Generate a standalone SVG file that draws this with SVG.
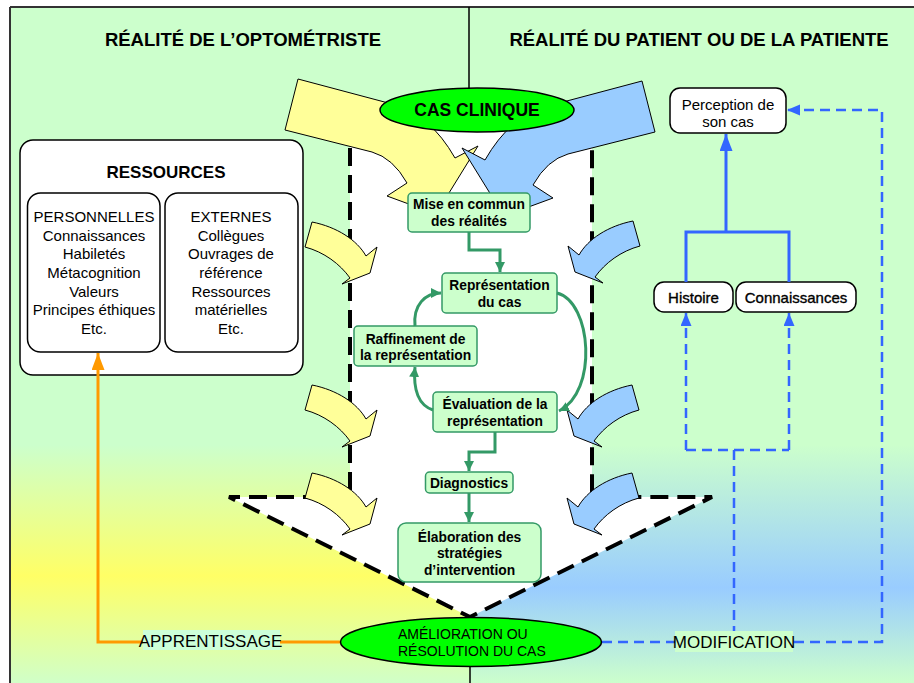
<svg xmlns="http://www.w3.org/2000/svg" xmlns:xlink="http://www.w3.org/1999/xlink" width="914" height="683" viewBox="0 0 914 683">
<style>
text{font-family:"Liberation Sans",Arial,sans-serif;fill:#000}
.t{font-weight:bold;font-size:18.5px;text-anchor:middle}
.g{fill:#CCFFCC;stroke:#339966;stroke-width:1.5}
.gt{font-weight:bold;font-size:13.8px;text-anchor:middle}
.w{fill:#fff;stroke:#000;stroke-width:1.5}
.r{font-size:15px;text-anchor:middle}
.dash{fill:none;stroke:#000;stroke-width:4;stroke-dasharray:18 9}
.ga{fill:none;stroke:#339966;stroke-width:3;marker-end:url(#mg)}
.bl{fill:none;stroke:#3366FF;stroke-width:3}
.bd{fill:none;stroke:#3366FF;stroke-width:2.5;stroke-dasharray:10 6}
.ys{fill:#FFFF99;stroke:#000;stroke-width:1}
.bs{fill:#99CCFF;stroke:#000;stroke-width:1}
.ell{fill:#00FF00;stroke:#000;stroke-width:1.5}
.lab{font-size:17px;text-anchor:middle}
</style>
<defs>
<linearGradient id="gy" x1="0" y1="0" x2="0" y2="1">
<stop offset="0" stop-color="#CCFFCC"/><stop offset="0.55" stop-color="#FFFF66"/><stop offset="1" stop-color="#D0FFC8"/>
</linearGradient>
<linearGradient id="gb" x1="0" y1="0" x2="0" y2="1">
<stop offset="0" stop-color="#CCFFCC"/><stop offset="0.6" stop-color="#99CCFF"/><stop offset="1" stop-color="#CCFFCC"/>
</linearGradient>
<marker id="mg" markerUnits="userSpaceOnUse" markerWidth="11" markerHeight="11" refX="10" refY="5" orient="auto"><path d="M0,0 L10,5 L0,10 z" fill="#339966"/></marker>
<marker id="mb" markerUnits="userSpaceOnUse" markerWidth="18" markerHeight="14" refX="17" refY="6.5" orient="auto"><path d="M0,0 L17,6.5 L0,13 z" fill="#3366FF"/></marker>
<marker id="mbs" markerUnits="userSpaceOnUse" markerWidth="14" markerHeight="12" refX="13" refY="5.5" orient="auto"><path d="M0,0 L13,5.5 L0,11 z" fill="#3366FF"/></marker>
<marker id="mo" markerUnits="userSpaceOnUse" markerWidth="18" markerHeight="14" refX="17" refY="6.5" orient="auto"><path d="M0,0 L17,6.5 L0,13 z" fill="#FF9900"/></marker>
<path id="sa" d="M0,0 C25,5 45,18 54,34 L65,25 L58,51 L30,62 L38,56 C28,42 12,30 -7,25 Z"/>
<path id="ba" d="M298,79 L392,104 Q430,114 455,158 L478,146 L436,214 L387,196 L407,183 Q393,158 372,152 L285,130 Z"/>
</defs>

<g id="background">
<rect x="0" y="0" width="914" height="683" fill="#fff"/>
<rect x="10" y="7" width="904" height="676" fill="#CCFFCC"/>
<rect x="10" y="445" width="460" height="238" fill="url(#gy)"/>
<rect x="470" y="445" width="444" height="238" fill="url(#gb)"/>
<polygon points="350,110 592,110 592,497 712,497 470,617 229,497 350,497" fill="#fff"/>
<line x1="10" y1="7" x2="914" y2="7" stroke="#333" stroke-width="2"/>
<line x1="10" y1="7" x2="10" y2="683" stroke="#333" stroke-width="2"/>
<line x1="469" y1="7" x2="469" y2="90" stroke="#000" stroke-width="1.5"/>
<line x1="470" y1="665" x2="470" y2="683" stroke="#000" stroke-width="1.5"/>
<path class="dash" d="M350,148 V497 H229 L470,617 L712,497 H592 V150"/>
</g>

<g id="titles">
<text class="t" x="243" y="46">RÉALITÉ DE L’OPTOMÉTRISTE</text>
<text class="t" x="699" y="46">RÉALITÉ DU PATIENT OU DE LA PATIENTE</text>
</g>

<g id="big-arrows">
<use xlink:href="#ba" class="ys"/>
<use xlink:href="#ba" class="bs" transform="translate(940,2) scale(-1,1)"/>
</g>

<g id="cas-clinique">
<ellipse class="ell" cx="477" cy="110" rx="97" ry="22"/>
<text x="477" y="116" style="font-weight:bold;font-size:17.5px;text-anchor:middle">CAS CLINIQUE</text>
</g>

<g id="side-arrows">
<use xlink:href="#sa" class="ys" transform="translate(312,222)"/>
<use xlink:href="#sa" class="ys" transform="translate(312,385)"/>
<use xlink:href="#sa" class="ys" transform="translate(312,473)"/>
<use xlink:href="#sa" class="bs" transform="translate(633,221) scale(-1,1)"/>
<use xlink:href="#sa" class="bs" transform="translate(632,385) scale(-1,1)"/>
<use xlink:href="#sa" class="bs" transform="translate(632,473) scale(-1,1)"/>
</g>

<g id="ressources">
<rect class="w" x="20" y="140" width="283" height="235" rx="13"/>
<text x="166" y="178" style="font-weight:bold;font-size:17px;text-anchor:middle">RESSOURCES</text>
<rect class="w" x="27.5" y="193" width="132.5" height="159" rx="13"/>
<rect class="w" x="165" y="193" width="133" height="159" rx="13"/>
<text class="r" x="94" y="222">PERSONNELLES</text>
<text class="r" x="94" y="241">Connaissances</text>
<text class="r" x="94" y="259">Habiletés</text>
<text class="r" x="94" y="278">Métacognition</text>
<text class="r" x="94" y="297">Valeurs</text>
<text class="r" x="94" y="315">Principes éthiques</text>
<text class="r" x="94" y="334">Etc.</text>
<text class="r" x="231" y="222">EXTERNES</text>
<text class="r" x="231" y="241">Collègues</text>
<text class="r" x="231" y="259">Ouvrages de</text>
<text class="r" x="231" y="278">référence</text>
<text class="r" x="231" y="297">Ressources</text>
<text class="r" x="231" y="315">matérielles</text>
<text class="r" x="231" y="334">Etc.</text>
</g>

<g id="mise-en-commun">
<rect class="g" x="408" y="193" width="122" height="39" rx="4"/>
<text class="gt" x="469" y="209">Mise en commun</text>
<text class="gt" x="469" y="226">des réalités</text>
</g>
<g id="representation">
<rect class="g" x="442" y="273" width="115" height="40" rx="4"/>
<text class="gt" x="499.5" y="290">Représentation</text>
<text class="gt" x="499.5" y="307">du cas</text>
</g>
<g id="raffinement">
<rect class="g" x="354" y="326" width="123" height="40" rx="4"/>
<text class="gt" x="415.5" y="344">Raffinement de</text>
<text class="gt" x="415.5" y="360">la représentation</text>
</g>
<g id="evaluation">
<rect class="g" x="433" y="392" width="124" height="40" rx="4"/>
<text class="gt" x="495" y="409">Évaluation de la</text>
<text class="gt" x="495" y="426">représentation</text>
</g>
<g id="diagnostics">
<rect class="g" x="425.5" y="472" width="87.5" height="21" rx="4"/>
<text class="gt" x="469" y="488">Diagnostics</text>
</g>
<g id="elaboration">
<rect class="g" x="398" y="523" width="143" height="59" rx="8"/>
<text class="gt" x="469.5" y="542">Élaboration des</text>
<text class="gt" x="469.5" y="558">stratégies</text>
<text class="gt" x="469.5" y="575">d’intervention</text>
</g>

<g id="perception">
<rect class="w" x="670" y="88" width="116" height="45" rx="10"/>
<text class="r" x="728" y="110">Perception de</text>
<text class="r" x="728" y="127">son cas</text>
</g>
<g id="histoire">
<rect class="w" x="654" y="282" width="79" height="30" rx="10" stroke-width="2"/>
<text class="r" x="693.5" y="303" stroke="#000" stroke-width="0.35">Histoire</text>
</g>
<g id="connaissances">
<rect class="w" x="736" y="282" width="120" height="30" rx="10" stroke-width="2"/>
<text class="r" x="796" y="303" stroke="#000" stroke-width="0.35">Connaissances</text>
</g>

<g id="connectors">
<path class="ga" d="M469,232 V250 H500 V272"/>
<path class="ga" d="M557,293 C592,302 598,392 559,411"/>
<path class="ga" d="M433,410 C418,405 413,390 415,367"/>
<path class="ga" d="M415,326 C413,305 425,293 441,293"/>
<path class="ga" d="M495,432 V452 H469 V471"/>
<path class="ga" d="M469,493 V522"/>
<path class="bl" d="M726,232 V134" marker-end="url(#mb)"/>
<path class="bl" d="M686,282 V232 H789 V282"/>
<path class="bd" d="M686,450 V313" marker-end="url(#mbs)"/>
<path class="bd" d="M789,450 V313" marker-end="url(#mbs)"/>
<path class="bd" d="M686,450 H789 M734,450 V642"/>
<path class="bd" d="M602,642 H882 V110 H787" marker-end="url(#mbs)"/>
<path d="M341,642 H98 V353" fill="none" stroke="#FF9900" stroke-width="3" marker-end="url(#mo)"/>
</g>

<g id="amelioration">
<ellipse class="ell" cx="471" cy="642" rx="130.5" ry="24.5"/>
<text x="398" y="639" style="font-size:14px">AMÉLIORATION OU</text>
<text x="398" y="656" style="font-size:14px">RÉSOLUTION DU CAS</text>
</g>

<g id="labels">
<rect x="143" y="630" width="137" height="20" fill="#CCFFD9"/>
<text class="lab" x="210.5" y="647">APPRENTISSAGE</text>
<rect x="675" y="631" width="118" height="21" fill="#CCFFCC"/>
<text class="lab" x="734" y="648">MODIFICATION</text>
</g>
</svg>
